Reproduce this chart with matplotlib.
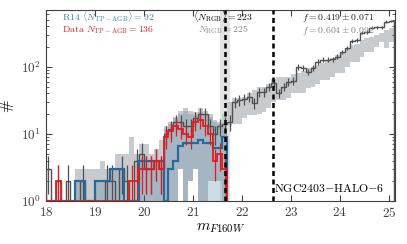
import numpy as np
import matplotlib
matplotlib.use("Agg")
import matplotlib.pyplot as plt

plt.rcParams['font.family'] = 'serif'
plt.rcParams['font.serif'] = ['cmr10', 'DejaVu Serif']
plt.rcParams['mathtext.fontset'] = 'cm'
plt.rcParams['axes.formatter.use_mathtext'] = True
plt.rcParams['axes.unicode_minus'] = False

# 0.1 mag bins from 18.0 to 25.1
bin_lo = 18.0
bin_width = 0.1
n_bins = 71

# observed counts (all stars)
data_counts = [3, 0, 2, 0, 2, 0, 0, 2, 0, 0,
               0, 0, 2, 2, 0, 3, 2, 0, 4, 5,
               3, 3, 4, 3, 10, 12, 15, 15, 13, 13,
               17, 20, 20, 13, 10, 13, 14, 15, 30, 32,
               33, 36, 29, 42, 42, 50, 58, 41, 50, 60,
               62, 100, 96, 84, 96, 118, 127, 127, 130, 141,
               167, 192, 244, 250, 322, 330, 380, 385, 390, 470,
               480]

# observed TP-AGB counts (first 37 bins, 18.0 - 21.7)
tpagb_counts = [0, 0, 2, 0, 0, 0, 0, 0, 0, 0,
                0, 0, 0, 0, 0, 0, 0, 2, 2, 3,
                3, 3, 4, 3, 9, 11, 13, 12, 10, 9,
                15, 16, 13, 10, 4, 5, 3]

# R14 model mean TP-AGB counts
r14_mean = [1, 1, 1, 1, 1, 1, 2, 2, 1, 1,
            2, 2, 2, 3, 3, 3, 1, 1, 1, 4,
            4, 4, 4, 4, 1, 3, 4, 6.5, 7.3, 7.3,
            7.3, 8.2, 7.3, 7.3, 6.2, 6.2, 9]

# R14 model TP-AGB range
r14_upper = [1, 1, 1, 1, 1, 1, 2, 2, 1, 1,
             2, 2, 2, 3, 3, 3, 1, 1, 1, 4,
             4, 4, 4, 4, 12, 14, 17, 20, 22, 20,
             19, 21, 20, 18, 15, 14, 14]
r14_lower = [1, 1, 1, 1, 1, 1, 1, 1, 1, 1,
             1, 1, 1, 1, 1, 1, 1, 1, 1, 1,
             1, 1, 1, 1, 1, 1, 1, 3, 1, 2,
             3, 1, 1, 1, 1, 1, 1]

# full model range
model_upper = [1, 1, 1, 1, 1, 1, 3, 3, 3, 3,
               3, 4, 3, 3, 5, 5, 5, 9, 5, 7,
               7, 5, 6, 8, 13, 15, 18, 22, 24, 22,
               21, 24, 22, 20, 16, 15, 20, 30, 34, 34,
               36, 40, 45, 50, 50, 55, 65, 71, 71, 70,
               78, 81, 85, 95, 100, 105, 115, 120, 135, 150,
               160, 190, 211, 220, 250, 270, 280, 300, 320, 350,
               380]
model_lower = [1, 1, 1, 1, 1, 1, 1, 1, 1, 1,
               1, 1, 1, 1, 1, 1, 1, 1, 1, 1,
               1, 1, 1, 1, 1, 1, 1, 3, 1, 2,
               3, 1, 1, 2, 2, 2, 1, 13, 14, 14,
               17, 19, 19, 20, 21, 24, 30, 32, 32, 34,
               40, 41, 41, 48, 50, 55, 64, 64, 70, 81,
               81, 100, 118, 118, 140, 167, 167, 200, 237, 192,
               237]

trgb_mag = 21.65
trgb_err = (21.55, 21.75)
cut_mag = 22.63

edges = bin_lo + bin_width * np.arange(n_bins + 1)
data_counts = np.array(data_counts, dtype=float)
tpagb_counts = np.array(tpagb_counts, dtype=float)
e_tp = edges[:len(tpagb_counts) + 1]

c_data = '#505050'
c_red = '#dc1e24'
c_blue = '#2a6a9b'

fig = plt.figure(figsize=(4.07, 2.44), dpi=100)
ax = fig.add_axes([0.113, 0.176, 0.857, 0.783])

ax.axvspan(trgb_err[0], trgb_err[1], color='#e3e3e3', zorder=0, lw=0)

ax.stairs(model_upper, edges, baseline=model_lower, fill=True,
          color='#c8cbce', lw=0, zorder=1)
ax.stairs(r14_upper, e_tp, baseline=r14_lower, fill=True,
          color='#4a7ea5', alpha=0.27, lw=0, zorder=2)

# data histogram
ax.stairs(np.maximum(data_counts, 1), edges, baseline=1, color=c_data, lw=1.0, zorder=3)
ok = data_counts > 0
centers = 0.5 * (edges[1:] + edges[:-1])
ax.errorbar(centers[ok], data_counts[ok], yerr=np.sqrt(data_counts[ok]),
            fmt='none', ecolor=c_data, elinewidth=0.9, zorder=3)

# R14 mean
ax.stairs(r14_mean, e_tp, baseline=1, color=c_blue, lw=1.6, zorder=4)

# data TP-AGB
ax.stairs(np.maximum(tpagb_counts, 1), e_tp, baseline=1, color=c_red, lw=1.3, zorder=5)
ok = tpagb_counts > 0
ctp = centers[:len(tpagb_counts)]
ax.errorbar(ctp[ok], tpagb_counts[ok], yerr=np.sqrt(tpagb_counts[ok]),
            fmt='none', ecolor=c_red, elinewidth=0.9, zorder=5)

for xm in [trgb_mag, cut_mag]:
    ax.axvline(xm, color='black', lw=1.8, ls=(0, (2, 1.4)), zorder=6)

ax.set_yscale('log')
ax.set_xlim(18, 25.12)
ax.set_ylim(1, 700)
ax.set_xticks(range(18, 26))
ax.tick_params(which='both', direction='in', top=True, right=True,
               labelsize=9.5, labelcolor='#404040', color='#404040')
ax.tick_params(which='major', length=4)
ax.tick_params(which='minor', length=2)
for s in ax.spines.values():
    s.set_color('#404040')

ax.set_xlabel(r'$m_{F160W}$', fontsize=11, labelpad=1)
ax.set_ylabel('#', fontsize=11, labelpad=6)

tfs = 7.0
y1, y2 = 0.948, 0.882
ax.text(0.046, y1, r'R14 $\langle N_{\mathrm{TP-AGB}}\rangle = 92$', color='#3a7db0',
        fontsize=tfs, transform=ax.transAxes, va='baseline', ha='left')
ax.text(0.046, y2, r'Data $N_{\mathrm{TP-AGB}} = 136$', color=c_red,
        fontsize=tfs, transform=ax.transAxes, va='baseline', ha='left')
ax.text(0.421, y1, r'$\langle N_{\mathrm{RGB}}\rangle = 223$', color='black',
        fontsize=tfs, transform=ax.transAxes, va='baseline', ha='left')
ax.text(0.435, y2, r'$N_{\mathrm{RGB}} = 225$', color='#808080',
        fontsize=tfs, transform=ax.transAxes, va='baseline', ha='left')
ax.text(0.735, y1, r'$f = 0.419 \pm 0.071$', color='#202020',
        fontsize=tfs, transform=ax.transAxes, va='baseline', ha='left')
ax.text(0.735, y2, r'$f = 0.604 \pm 0.092$', color='#808080',
        fontsize=tfs, transform=ax.transAxes, va='baseline', ha='left')
ax.text(0.97, 0.045, r'NGC2403$-$HALO$-$6', color='black', fontsize=8.5,
        transform=ax.transAxes, va='baseline', ha='right')

fig.savefig('out.png', dpi=100)
